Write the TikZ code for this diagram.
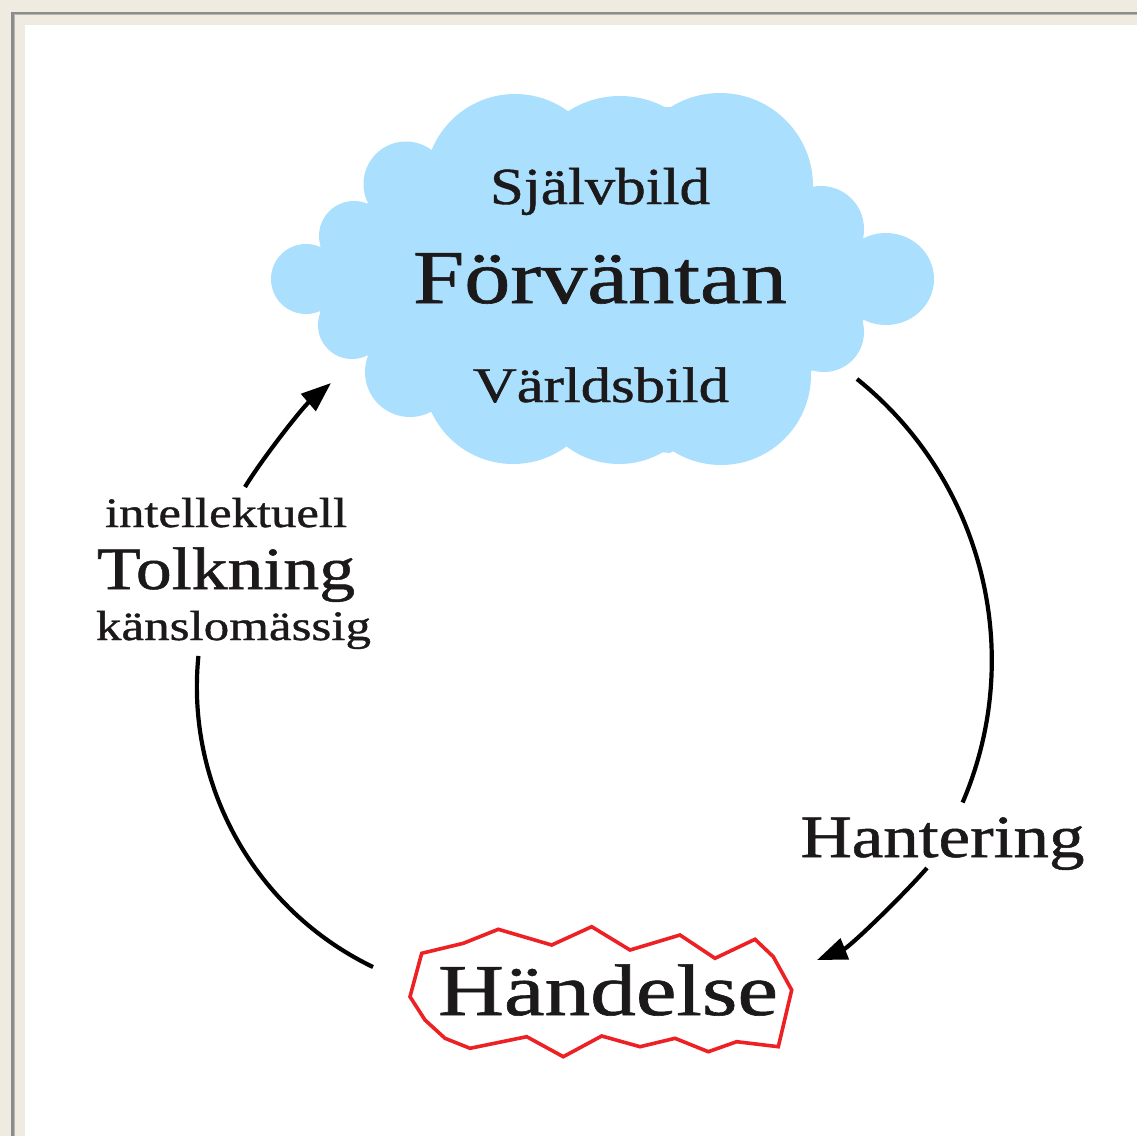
\documentclass[tikz,border=0pt]{standalone}
\usepackage{fontspec}
\setmainfont{Liberation Serif}
\newfontfamily\labelserif{Liberation Serif}[FakeBold=0.8]
\usepackage{graphicx}
\usetikzlibrary{arrows.meta}
\definecolor{pagebeige}{RGB}{239,235,224}
\definecolor{framegray}{RGB}{140,140,140}
\definecolor{framegraylight}{RGB}{182,182,178}
\definecolor{cloudblue}{RGB}{170,223,253}
\definecolor{inkdark}{RGB}{28,25,26}
\definecolor{eventred}{RGB}{237,32,36}
\newcommand{\sizedtext}[3]{\resizebox{#1}{\height}{\labelserif\fontsize{#2}{#2}\selectfont #3}}
\begin{document}
\begin{tikzpicture}[x=0.5pt,y=-0.5pt,
  lbl/.style={inner sep=0pt, outer sep=0pt, anchor=base, text=inkdark},
  flow/.style={line width=2.1pt, draw=black, -{Triangle[length=15pt,width=11pt]}},
  plainflow/.style={line width=2.1pt, draw=black},
  eventshape/.style={draw=eventred, line width=1.8pt},
  puff/.style={fill=cloudblue}]
\useasboundingbox (0,0) rectangle (1137,1136);
% frame
\fill[pagebeige] (0,0) rectangle (1137,1136);
\fill[framegray] (11,12) rectangle (1137,14);
\fill[framegray] (11,12) rectangle (14,1136);
\fill[framegraylight] (14,14) rectangle (1137,15);
\fill[framegraylight] (14,14) rectangle (15,1136);
\fill[white] (25,25) rectangle (1137,1136);
% cloud: core polygon through the cusps, plus one circle per bump
\fill[puff] (432,150) -- (570,113) -- (670,107) -- (813,187) -- (863,235) -- (863,323)
  -- (813,370) -- (670,453) -- (570,443) -- (433,413) -- (367,355) -- (320,312)
  -- (320,247) -- (368,203) -- cycle;
\fill[puff] (515,184) circle[radius=90];
\fill[puff] (620,192) circle[radius=96];
\fill[puff] (720,186) circle[radius=93];
\fill[puff] (821,229) circle[radius=43];
\fill[puff] (886,279) circle[x radius=48, y radius=46];
\fill[puff] (824,332) circle[radius=40];
\fill[puff] (721,375) circle[radius=90];
\fill[puff] (619,377) circle[radius=87];
\fill[puff] (513,374) circle[radius=90];
\fill[puff] (410,372) circle[radius=45];
\fill[puff] (352,325) circle[radius=34];
\fill[puff] (306,279) circle[radius=35];
\fill[puff] (354,236) circle[radius=35];
\fill[puff] (406,184) circle[radius=42.5];
% texts
\node[lbl] (selfimg) at (600,204) {\sizedtext{110pt}{26pt}{Självbild}};
\node[lbl] (expect) at (600,303) {\sizedtext{187pt}{38pt}{Förväntan}};
\node[lbl] (worldimg) at (601,402) {\sizedtext{128pt}{25pt}{Världsbild}};
\node[lbl] (event) at (608,1015) {\sizedtext{170pt}{36.5pt}{Händelse}};
\node[lbl] (intel) at (226,527) {\sizedtext{121pt}{21pt}{intellektuell}};
\node[lbl] (interp) at (226,589) {\sizedtext{129pt}{30pt}{Tolkning}};
\node[lbl] (emot) at (233.5,640) {\sizedtext{137.5pt}{21pt}{känslomässig}};
\node[lbl] (handling) at (942.5,857) {\sizedtext{142pt}{30pt}{Hantering}};
% event outline
\draw[eventshape] (421.7,953.3) -- (463.3,943.3) -- (498.3,929.3) -- (551.7,945) -- (591.7,926.7)
  -- (630,950) -- (680,935) -- (715,958.3) -- (755,939.3) -- (773.3,956.7) -- (791.7,990)
  -- (778.3,1046.7) -- (736.7,1041.7) -- (708.3,1051.7) -- (675,1038.3) -- (640,1046.7)
  -- (601.7,1036) -- (563.3,1056.7) -- (526.7,1036.7) -- (470,1048.3) -- (445,1038.3)
  -- (425,1020) -- (410,996.7) -- cycle;
% connector ends
\coordinate (evL) at (373,967);
\coordinate (interpB) at (198,655);
\coordinate (interpT) at (245,487);
\coordinate (cloudIn) at (331,383);
\coordinate (cloudOut) at (857,379);
\coordinate (handT) at (963,802);
\coordinate (handB) at (927,868);
\coordinate (evR) at (817,960);
% connectors
\draw[plainflow] (evL) arc[start angle=115.7, end angle=185.7, radius=311];
\draw[flow] (interpT) .. controls (262,459) and (302,408) .. (cloudIn);
\draw[plainflow] (cloudOut) arc[start angle=-51.2, end angle=23.2, radius=361];
\draw[flow] (handB) .. controls (900.6,898) and (849.6,946.9) .. (evR);
\end{tikzpicture}
\end{document}
